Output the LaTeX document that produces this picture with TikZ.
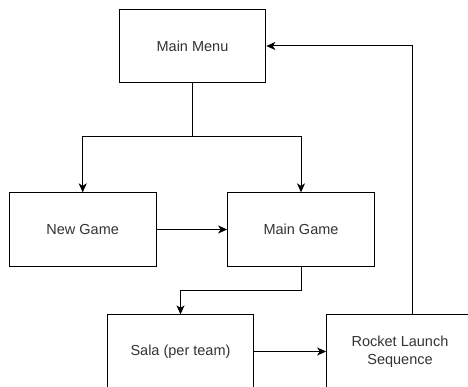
\documentclass[tikz,border=0pt]{standalone}
\usepackage{fontspec}
\setmainfont{Liberation Sans}
\usepackage{tikz}
\usetikzlibrary{arrows.meta,positioning}
\definecolor{textgray}{HTML}{333333}

\begin{document}
\begin{tikzpicture}[x=1pt, y=-1pt, line width=1pt,
	main node/.style={rectangle,draw,fill=white,inner sep=0pt,align=center,
		minimum width=146.7pt,minimum height=73.3pt,text=textgray,
		font=\fontsize{14.5}{17.5}\selectfont},
	flow/.style={-{Stealth[length=9pt,width=8pt,inset=2.5pt]}}]
	
	\clip (0,0) rectangle (468,387);
	
	\node[main node] (menu) at (192.5,46) {Main Menu};
	\node[main node] (newgame) at (82.7,229.5) {New Game};
	\node[main node] (maingame) at (301,229.5) {Main Game};
	\node[main node] (sala) at (180.5,351.5) {Sala (per team)};
	\node[main node] (rocket) at (400,351.5) {Rocket Launch\\Sequence};
	
	\coordinate (split) at (192.5,137);
	\coordinate (bend) at (180.5,290);
	\coordinate (back) at (412,46);
	
	\draw (menu) -- (split);
	\draw[flow] (split) -| (newgame);
	\draw[flow] (split) -| (maingame);
	\draw[flow] (newgame) -- (maingame);
	\draw[flow] (maingame.south) |- (bend) -- (sala.north);
	\draw[flow] (sala) -- (rocket);
	\draw[flow] (back |- rocket.north) -- (back) -- (menu.east);
	
\end{tikzpicture}
\end{document}
